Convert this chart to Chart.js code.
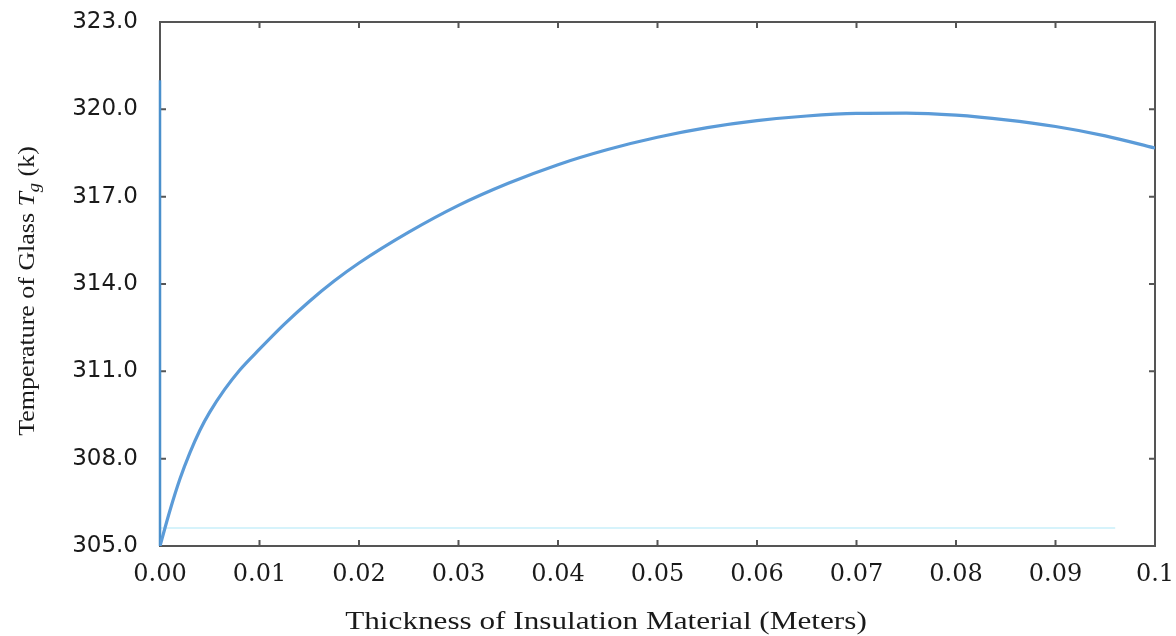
<!DOCTYPE html>
<html>
<head>
<meta charset="utf-8">
<script src="https://cdn.jsdelivr.net/npm/chart.js@4.4.1/dist/chart.umd.min.js"></script>
<style>
  html, body { margin: 0; padding: 0; background: #ffffff; }
  #wrap { width: 1176px; height: 636px; }
</style>
</head>
<body>
<div id="wrap"><canvas id="c" width="1176" height="636"></canvas></div>
<script>
// ---- data ----
const thickness = [0, 0.001, 0.002, 0.003, 0.004, 0.005, 0.0065, 0.008, 0.01, 0.0125, 0.015, 0.0175,
                   0.02, 0.025, 0.03, 0.035, 0.04, 0.045, 0.05, 0.055, 0.06, 0.065, 0.07, 0.075,
                   0.08, 0.085, 0.09, 0.095, 0.1];
const glassTemp = [305.0, 306.22, 307.3, 308.2, 308.97, 309.6, 310.38, 311.04, 311.76, 312.62, 313.4, 314.1,
                   314.72, 315.78, 316.7, 317.46, 318.1, 318.62, 319.04, 319.37, 319.61, 319.77, 319.86, 319.87,
                   319.8, 319.64, 319.41, 319.09, 318.67];
// artifacts visible in the reference plot
const edgeX = [0, 0];
const edgeY = [321.0, 305.0];
const faintX = [0, 0.096];
const faintY = [305.62, 305.62];

const xTicks = [0, 0.01, 0.02, 0.03, 0.04, 0.05, 0.06, 0.07, 0.08, 0.09, 0.1];
const xTickLabels = ['0.00', '0.01', '0.02', '0.03', '0.04', '0.05', '0.06', '0.07', '0.08', '0.09', '0.1'];
const yTicks = [305, 308, 311, 314, 317, 320, 323];
const yTickLabels = ['305.0', '308.0', '311.0', '314.0', '317.0', '320.0', '323.0'];

const xTitle = 'Thickness of Insulation Material (Meters)';
const yTitleParts = ['Temperature of Glass ', 'T', 'g', ' (k)'];

const pts = (xs, ys) => xs.map((x, i) => ({ x: x, y: ys[i] }));

const framePlugin = {
  id: 'frameTicks',
  beforeDatasetsDraw(chart) {
    const ctx = chart.ctx;
    const { left, right, top, bottom } = chart.chartArea;
    const xs = chart.scales.x, ys = chart.scales.y;
    ctx.save();
    ctx.strokeStyle = '#555555';
    ctx.lineWidth = 2;
    ctx.strokeRect(left, top, right - left, bottom - top);
    xTicks.forEach(v => {
      const px = xs.getPixelForValue(v);
      ctx.beginPath();
      ctx.moveTo(px, bottom); ctx.lineTo(px, bottom - 6);
      ctx.moveTo(px, top); ctx.lineTo(px, top + 6);
      ctx.stroke();
    });
    yTicks.forEach(v => {
      const py = ys.getPixelForValue(v);
      ctx.beginPath();
      ctx.moveTo(left, py); ctx.lineTo(left + 6, py);
      ctx.moveTo(right, py); ctx.lineTo(right - 6, py);
      ctx.stroke();
    });
    ctx.restore();
  },
  afterDraw(chart) {
    const ctx = chart.ctx;
    // x axis title (horizontally stretched like the reference)
    ctx.save();
    ctx.fillStyle = '#1a1a1a';
    ctx.font = '26px "Liberation Serif"';
    ctx.textAlign = 'center';
    ctx.textBaseline = 'middle';
    ctx.translate(606, 622);
    ctx.scale(1.2, 1);
    ctx.fillText(xTitle, 0, 0);
    ctx.restore();

    // y axis title (rich text, rotated)
    ctx.save();
    ctx.fillStyle = '#1a1a1a';
    ctx.translate(26, 291);
    ctx.rotate(-Math.PI / 2);
    ctx.scale(1.08, 1);
    const fNorm = '24px "Liberation Serif"';
    const fIt = 'italic 24px "Liberation Serif"';
    const fSub = 'italic 17px "Liberation Serif"';
    ctx.font = fNorm; const w0 = ctx.measureText(yTitleParts[0]).width;
    ctx.font = fIt; const w1 = ctx.measureText(yTitleParts[1]).width;
    ctx.font = fSub; const w2 = ctx.measureText(yTitleParts[2]).width;
    ctx.font = fNorm; const w3 = ctx.measureText(yTitleParts[3]).width;
    let x = -(w0 + w1 + w2 + w3) / 2;
    ctx.textAlign = 'left';
    ctx.textBaseline = 'alphabetic';
    const base = 8;
    ctx.font = fNorm; ctx.fillText(yTitleParts[0], x, base); x += w0;
    ctx.font = fIt; ctx.fillText(yTitleParts[1], x, base); x += w1;
    ctx.font = fSub; ctx.fillText(yTitleParts[2], x, base + 5); x += w2;
    ctx.font = fNorm; ctx.fillText(yTitleParts[3], x, base);
    ctx.restore();
  }
};

new Chart(document.getElementById('c'), {
  type: 'line',
  data: {
    datasets: [
      {
        label: 'faint',
        data: pts(faintX, faintY),
        borderColor: '#d6f3fb',
        borderWidth: 2,
        pointRadius: 0,
        order: 3
      },
      {
        label: 'edge',
        data: pts(edgeX, edgeY),
        borderColor: '#4a90cc',
        borderWidth: 2.5,
        pointRadius: 0,
        clip: false,
        order: 2
      },
      {
        label: 'Tg',
        data: pts(thickness, glassTemp),
        borderColor: '#5b9bd8',
        borderWidth: 3.2,
        pointRadius: 0,
        cubicInterpolationMode: 'monotone',
        fill: false,
        order: 1
      }
    ]
  },
  options: {
    responsive: false,
    animation: false,
    layout: { autoPadding: false, padding: { left: 0, right: 21, top: 22, bottom: 0 } },
    plugins: { legend: { display: false }, tooltip: { enabled: false }, title: { display: false } },
    scales: {
      x: {
        type: 'linear',
        min: 0, max: 0.1,
        border: { display: false },
        grid: { display: false, drawTicks: false },
        afterBuildTicks: s => { s.ticks = xTicks.map(v => ({ value: v })); },
        afterFit: s => { s.height = 90; s.paddingLeft = 0; s.paddingRight = 0; },
        ticks: {
          padding: 14,
          color: '#1a1a1a',
          font: { family: 'DejaVu Serif', size: 24 },
          maxRotation: 0,
          autoSkip: false,
          callback: (v, i) => xTickLabels[i]
        }
      },
      y: {
        min: 305, max: 323,
        border: { display: false },
        grid: { display: false, drawTicks: false },
        afterBuildTicks: s => { s.ticks = yTicks.map(v => ({ value: v })); },
        afterFit: s => { s.width = 160; s.paddingTop = 0; s.paddingBottom = 0; },
        ticks: {
          padding: 22,
          color: '#1a1a1a',
          font: { family: 'DejaVu Sans', size: 23 },
          autoSkip: false,
          callback: (v, i) => yTickLabels[i]
        }
      }
    }
  },
  plugins: [framePlugin]
});
</script>
</body>
</html>
